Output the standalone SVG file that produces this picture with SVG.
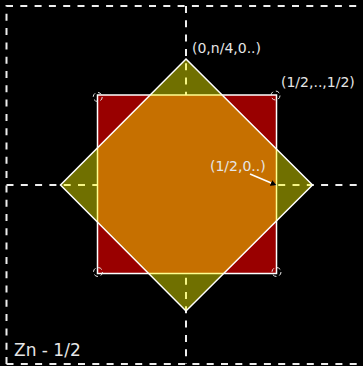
<svg xmlns="http://www.w3.org/2000/svg" width="363" height="366" viewBox="0 0 363 366">
<style>
.dash{fill:none;stroke:#eeeeee;stroke-width:2;stroke-dasharray:7,7.3}
.lbl{font-family:"DejaVu Sans",sans-serif;fill:#e6e6e6;font-size:14px}
.ring{fill:none;stroke:#e6e6e6;stroke-width:1;stroke-dasharray:4,3}
</style>
<defs>
<marker id="ah" viewBox="0 0 10 10" refX="9" refY="5" markerWidth="6" markerHeight="6" orient="auto" markerUnits="userSpaceOnUse">
<path d="M0,0 L10,5 L0,10 z" fill="#000"/>
</marker>
</defs>
<rect width="363" height="366" fill="#000"/>
<g id="frame">
<path class="dash" d="M6.5,364 V6 H363 M6.5,364 H363"/>
<path class="dash" d="M186,6 V364 M6.5,185 H363"/>
</g>
<g id="square">
<rect x="97.5" y="95" width="179" height="178.5" fill="#990000" stroke="#fff" stroke-width="1.5"/>
</g>
<g id="diamond">
<polygon points="186,59 312.5,185 186,311 60.5,185" fill="#ffff00" fill-opacity="0.44" stroke="#fff" stroke-width="1.5"/>
</g>
<g id="corners">
<circle class="ring" cx="97.7" cy="97" r="4.5"/>
<circle class="ring" cx="275.5" cy="95.5" r="4.5"/>
<circle class="ring" cx="98" cy="272" r="4.5"/>
<circle class="ring" cx="276.5" cy="272" r="4.5"/>
</g>
<g id="connectors">
<line x1="250" y1="174" x2="276" y2="185" stroke="#fff" stroke-width="1.5" marker-end="url(#ah)"/>
</g>
<g id="labels">
<text class="lbl" x="192" y="53">(0,n/4,0..)</text>
<text class="lbl" x="281" y="87">(1/2,..,1/2)</text>
<text class="lbl" x="210" y="171">(1/2,0..)</text>
<text class="lbl" x="14" y="356" style="font-size:17px">Zn - 1/2</text>
</g>
</svg>
